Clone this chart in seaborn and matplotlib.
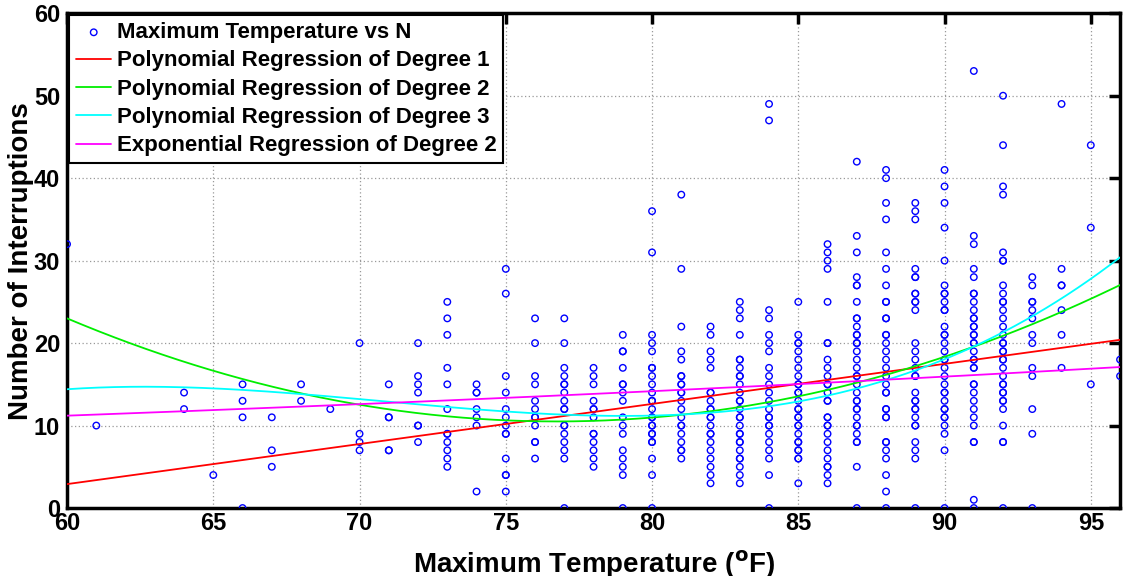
import numpy as np
import pandas as pd
import matplotlib
matplotlib.use("Agg")
import matplotlib.pyplot as plt
import seaborn as sns

# ---------------- data ----------------
n_60 = [32]
n_61 = [10]
n_64 = [14, 12]
n_65 = [4]
n_66 = [15, 13, 11, 0]
n_67 = [11, 7, 5]
n_68 = [15, 13]
n_69 = [12]
n_70 = [20, 9, 8, 7]
n_71 = [15, 11, 11, 7, 7]
n_72 = [20, 16, 15, 14, 10, 10, 8]
n_73 = [25, 23, 21, 17, 15, 12, 9, 9, 8, 7, 6, 5]
n_74 = [15, 14, 14, 12, 11, 10, 2]
n_75 = [29, 26, 16, 14, 12, 11, 10, 9, 9, 6, 4, 4, 2]
n_76 = [23, 20, 16, 15, 13, 12, 11, 11, 10, 8, 8, 6]
n_77 = [23, 20, 17, 16, 15, 15, 14, 13, 12, 12, 10, 10, 9, 8, 7, 6, 0]
n_78 = [17, 16, 15, 13, 12, 12, 11, 9, 9, 8, 7, 6, 5]
n_79 = [21, 19, 19, 17, 15, 15, 14, 13, 11, 10, 9, 7, 6, 5, 4, 0]
n_80 = [36, 31, 21, 20, 19, 17, 17, 16, 15, 14, 13, 13, 12, 11, 11,
        10, 10, 9, 9, 8, 8, 6, 4, 0]
n_81 = [38, 29, 22, 19, 18, 16, 16, 15, 15, 14, 14, 13, 12, 11, 10,
        10, 9, 8, 7, 7, 6]
n_82 = [22, 21, 19, 18, 17, 14, 14, 13, 12, 12, 11, 11, 10, 9, 9, 8,
        7, 6, 5, 4, 3]
n_83 = [25, 24, 23, 21, 18, 18, 17, 16, 16, 15, 14, 13, 13, 12, 11,
        11, 10, 9, 9, 8, 8, 7, 6, 6, 5, 4, 3]
n_84 = [49, 47, 24, 23, 21, 20, 19, 17, 16, 15, 14, 13, 12, 11, 11,
        10, 10, 9, 8, 7, 6, 4, 0]
n_85 = [25, 21, 20, 20, 19, 18, 17, 16, 15, 15, 14, 14, 13, 12, 12,
        11, 11, 10, 10, 9, 8, 8, 7, 7, 6, 6, 3]
n_86 = [32, 31, 30, 29, 25, 20, 20, 18, 17, 16, 15, 15, 14, 13, 13,
        11, 11, 10, 10, 9, 8, 7, 6, 5, 5, 4, 3]
n_87 = [42, 33, 31, 28, 27, 27, 25, 23, 23, 22, 21, 21, 20, 20, 19,
        18, 17, 16, 16, 15, 14, 13, 13, 12, 12, 11, 10, 10, 9, 8, 8, 5, 0]
n_88 = [41, 40, 37, 35, 31, 29, 27, 25, 25, 23, 23, 21, 21, 20, 19,
        18, 17, 16, 15, 14, 14, 12, 12, 11, 11, 8, 8, 7, 6, 4, 2, 0]
n_89 = [37, 36, 35, 29, 28, 28, 26, 26, 25, 25, 24, 20, 19, 18, 17,
        16, 16, 14, 13, 13, 12, 12, 11, 10, 10, 8, 7, 6, 0]
n_90 = [41, 39, 37, 34, 30, 27, 26, 26, 25, 24, 24, 22, 21, 21, 20,
        19, 18, 18, 17, 16, 15, 14, 14, 13, 12, 12, 11, 11, 10, 9, 7, 0]
n_91 = [53, 33, 32, 29, 28, 26, 26, 25, 24, 23, 23, 22, 22, 21, 21,
        20, 20, 19, 18, 18, 17, 17, 15, 15, 14, 13, 12, 11, 10, 8, 8, 1, 0]
n_92 = [50, 44, 39, 38, 31, 30, 30, 27, 26, 25, 25, 24, 23, 22, 21,
        20, 20, 19, 19, 18, 18, 17, 16, 15, 15, 14, 14, 13, 13, 12, 10,
        8, 8, 0]
n_93 = [28, 27, 25, 25, 24, 23, 21, 20, 17, 16, 12, 9, 0]
n_94 = [49, 29, 27, 27, 24, 21, 17]
n_95 = [44, 34, 15]
n_96 = [18, 16]

temperatures = [60, 61, 64, 65, 66, 67, 68, 69, 70, 71, 72, 73, 74, 75,
                76, 77, 78, 79, 80, 81, 82, 83, 84, 85, 86, 87, 88, 89,
                90, 91, 92, 93, 94, 95, 96]
interruptions = [n_60, n_61, n_64, n_65, n_66, n_67, n_68, n_69, n_70,
                 n_71, n_72, n_73, n_74, n_75, n_76, n_77, n_78, n_79,
                 n_80, n_81, n_82, n_83, n_84, n_85, n_86, n_87, n_88,
                 n_89, n_90, n_91, n_92, n_93, n_94, n_95, n_96]

# regression coefficients (polynomials in u=(T-78)/10)
poly1_coef = [4.86, 11.65]
poly2_coef = [4.46, 1.124, 10.571]
poly3_coef = [1.607, 3.455, -0.763, 11.21]
exp_coef = [11.2, 0.01175]          # y = A*exp(B*(T-60))

series_labels = ["Maximum Temperature vs N",
                 "Polynomial Regression of Degree 1",
                 "Polynomial Regression of Degree 2",
                 "Polynomial Regression of Degree 3",
                 "Exponential Regression of Degree 2"]
xticks = [60, 65, 70, 75, 80, 85, 90, 95]
yticks = [0, 10, 20, 30, 40, 50, 60]

# ---------------- build tables ----------------
pts = pd.DataFrame({
    "T": [t for t, vals in zip(temperatures, interruptions) for _ in vals],
    "N": [v for vals in interruptions for v in vals],
})
tt = np.linspace(60, 96, 400)
uu = (tt - 78) / 10
curves = pd.DataFrame({
    "T": np.tile(tt, 4),
    "N": np.concatenate([np.polyval(poly1_coef, uu),
                         np.polyval(poly2_coef, uu),
                         np.polyval(poly3_coef, uu),
                         exp_coef[0] * np.exp(exp_coef[1] * (tt - 60))]),
    "fit": np.repeat(series_labels[1:], len(tt)),
})

# ---------------- style ----------------
sns.set_theme(style="white")
plt.rcParams["font.family"] = ["Liberation Sans", "DejaVu Sans"]
plt.rcParams["font.weight"] = "bold"
plt.rcParams["text.color"] = "black"
plt.rcParams["axes.labelcolor"] = "black"
plt.rcParams["xtick.color"] = "black"
plt.rcParams["ytick.color"] = "black"
plt.rcParams["mathtext.default"] = "bf"

fig = plt.figure(figsize=(11.25, 5.76), dpi=100)
ax = fig.add_axes([0.0596, 0.118, 0.9360, 0.859])

sns.scatterplot(data=pts, x="T", y="N", ax=ax, marker="o",
                facecolor="none", edgecolor="#0000ff", linewidth=1.0,
                s=22, label=series_labels[0], zorder=3)
line_colors = ["#ff0000", "#00ee00", "#00ffff", "#ff00ff"]
sns.lineplot(data=curves, x="T", y="N", hue="fit",
             palette=dict(zip(series_labels[1:], line_colors)),
             hue_order=series_labels[1:], estimator=None, sort=False,
             linewidth=1.3, ax=ax, zorder=4)

ax.set_xlim(60, 96)
ax.set_ylim(0, 60)
ax.set_xticks(xticks)
ax.set_yticks(yticks)
ax.tick_params(axis="both", which="both", direction="in", length=8,
               width=2.5, top=True, right=True, labelsize=17, pad=3,
               colors="black")
ax.tick_params(axis="y", pad=5)
for lab in ax.get_xticklabels() + ax.get_yticklabels():
    lab.set_fontweight("bold")
for sp in ax.spines.values():
    sp.set_linewidth(2.5)
    sp.set_color("black")
ax.grid(True, linestyle=(0, (1, 2)), color="#999999", linewidth=0.9)
ax.set_axisbelow(True)

ax.set_xlabel("Maximum Temperature ($^{\\mathbf{o}}$F)", fontsize=20,
              fontweight="bold", labelpad=10)
ax.set_ylabel("Number of Interruptions", fontsize=20, fontweight="bold",
              labelpad=0)

handles, labels = ax.get_legend_handles_labels()
leg = ax.legend(handles, labels, loc="upper left",
                prop={"weight": "bold", "size": 16},
                frameon=True, fancybox=False, framealpha=1,
                edgecolor="black", handlelength=1.6, handletextpad=0.25,
                borderpad=0.3, labelspacing=0.33, borderaxespad=0.1)
leg.get_frame().set_linewidth(1.5)

fig.savefig("out.png", dpi=100)
